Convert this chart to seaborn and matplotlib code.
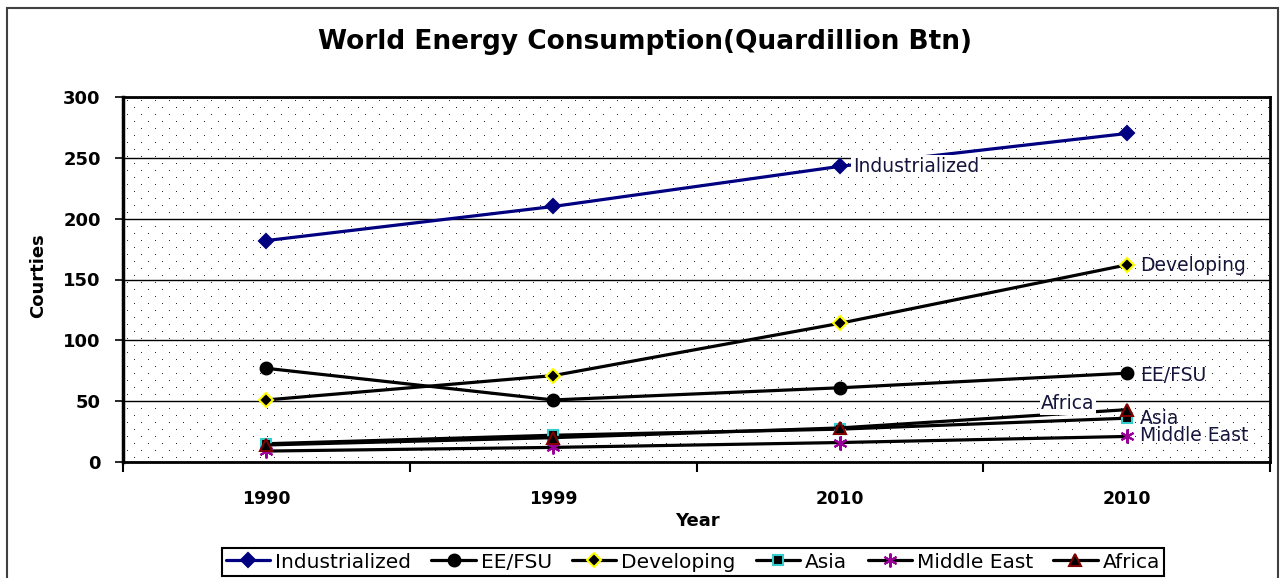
import matplotlib
matplotlib.use("Agg")
import numpy as np
import pandas as pd
import matplotlib.pyplot as plt
from matplotlib.patches import Rectangle
from matplotlib.ticker import FixedLocator, MultipleLocator
import seaborn as sns

# ---------------------------------------------------------------------------
# Data
# ---------------------------------------------------------------------------

YEARS = ["1990", "1999", "2010", "2010"]
SERIES = ["Industrialized", "EE/FSU", "Developing", "Asia", "Middle East", "Africa"]

industrialized = [182, 210, 243, 270]
ee_fsu = [77, 51, 61, 73]
developing = [51, 71, 114, 162]
asia = [15, 22, 27, 36]
middle_east = [9, 12, 16, 21]
africa = [14, 20, 28, 43]

VALUES = [industrialized, ee_fsu, developing, asia, middle_east, africa]
Y_TICKS = [0, 50, 100, 150, 200, 250, 300]

# line colour, marker, marker size, face colour, edge colour
STYLES = {
    "Industrialized": ("#000080", "D", 7, "#000080", "#000080"),
    "EE/FSU":         ("black", "o", 8.5, "black", "black"),
    "Developing":     ("black", "D", 7, "black", "#FFFF00"),
    "Asia":           ("black", "s", 7, "black", "#33CCCC"),
    "Middle East":    ("black", (6, 2, 0), 10, "#990099", "#990099"),
    "Africa":         ("black", "^", 9, "black", "#800000"),
}

# inline series label: point index, pixel offset, alignment, white box
LABELS = {
    "Industrialized": (2, (13, 0), "left", True),
    "EE/FSU":         (3, (14, -2), "left", False),
    "Developing":     (3, (14, -1), "left", False),
    "Asia":           (3, (13, 0), "left", False),
    "Middle East":    (3, (13, 1), "left", False),
    "Africa":         (3, (-32, 6), "right", True),
}

sns.set_style("white")
plt.rcParams["font.family"] = ["DejaVu Sans"]
plt.rcParams["text.color"] = "black"
plt.rcParams["xtick.color"] = "black"
plt.rcParams["ytick.color"] = "black"
plt.rcParams["axes.labelcolor"] = "black"

df = pd.DataFrame({"pos": list(range(len(YEARS))) * len(SERIES),
                   "value": sum(VALUES, []),
                   "series": [s for s in SERIES for _ in YEARS]})

W, H = 1284, 578
AX_L, AX_T, AX_W, AX_H = 123, 97, 1147, 365

fig = plt.figure(figsize=(W / 100, H / 100), dpi=100)
ax = fig.add_axes([AX_L / W, 1 - (AX_T + AX_H) / H, AX_W / W, AX_H / H])

# dotted plot-area fill, one texel per screen pixel
rows, cols = np.mgrid[0:AX_H, 0:AX_W]
dots = (rows % 7 == 3) & (((cols + 7 * ((rows // 7) % 2)) % 14) == 4)
texture = np.where(dots, 0.15, 1.0)
ax.imshow(texture, cmap="gray", vmin=0, vmax=1, extent=(-0.5, 3.5, 0, 300),
          aspect="auto", interpolation="nearest", zorder=0)

handles = []
for name in SERIES:
    color, marker, ms, mfc, mec = STYLES[name]
    sub = df[df["series"] == name]
    sns.lineplot(data=sub, x="pos", y="value", ax=ax, color=color, lw=2.3,
                 marker=marker, markersize=ms, markerfacecolor=mfc,
                 markeredgecolor=mec, markeredgewidth=1.5, legend=False)
    handles.append(ax.get_lines()[-1])

    idx, off, ha, boxed = LABELS[name]
    box = dict(boxstyle="square,pad=0.08", fc="white", ec="none") if boxed else None
    ax.annotate(name, (sub["pos"].iloc[idx], sub["value"].iloc[idx]),
                xytext=off, textcoords="offset pixels", ha=ha, va="center",
                fontsize=13.5, color="#14143c", zorder=5, bbox=box)

ax.set_xlim(-0.5, 3.5)
ax.set_ylim(0, 300)
ax.xaxis.set_major_locator(FixedLocator(range(len(YEARS))))
ax.set_xticklabels(YEARS, fontsize=12.5, fontweight="bold")
ax.xaxis.set_minor_locator(MultipleLocator(1, offset=0.5))
ax.set_yticks(Y_TICKS)
ax.set_yticklabels([str(t) for t in Y_TICKS], fontsize=13, fontweight="bold")
ax.tick_params(axis="x", which="major", length=0, pad=20)
ax.tick_params(axis="x", which="minor", length=7, width=1.5, direction="out",
               bottom=True)
ax.tick_params(axis="y", length=6, width=1.2, direction="out", left=True, pad=10)

ax.yaxis.grid(True, color="black", lw=1, zorder=1)
ax.set_axisbelow(True)
for sp in ax.spines.values():
    sp.set_color("black")
    sp.set_linewidth(2)
ax.spines["left"].set_linewidth(2.5)

ax.set_xlabel("Year", fontsize=13, fontweight="bold")
ax.set_ylabel("Courties", fontsize=13, fontweight="bold")
ax.xaxis.set_label_coords(0.501, -0.162)
ax.xaxis.label.set_va("center")
ax.yaxis.set_label_coords(-0.074, 0.51)
ax.yaxis.label.set_va("center")

fig.text(645 / W, 1 - 42 / H, "World Energy Consumption(Quardillion Btn)",
         ha="center", va="center", fontsize=19, fontweight="heavy")

leg = fig.legend(handles, SERIES, loc="center",
                 bbox_to_anchor=(693 / W, 1 - 562 / H), ncol=6,
                 frameon=True, fancybox=False, framealpha=1, edgecolor="black",
                 fontsize=14.5, handlelength=2.2, handletextpad=0.25,
                 columnspacing=1.0, borderpad=0.2)
leg.get_frame().set_linewidth(1.5)

# outer chart border
fig.add_artist(Rectangle((7 / W, -0.02), 1271 / W, 1.02 - 8 / H,
                         transform=fig.transFigure, fill=False,
                         ec="#404040", lw=1.5))

fig.savefig("out.png", dpi=100)
